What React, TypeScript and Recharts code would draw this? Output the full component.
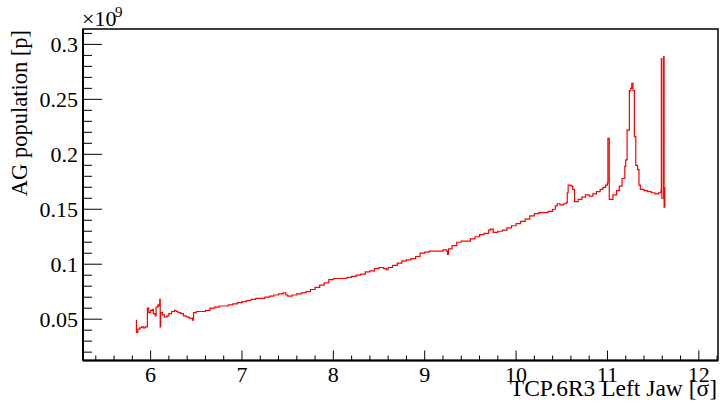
import React from "react";
import {
  LineChart,
  Line,
  XAxis,
  YAxis,
  ReferenceArea,
} from "recharts";

// jaw position in sigma
const sigma = [
  5.84, 5.845, 5.86, 5.88, 5.9, 5.92, 5.94, 5.96, 5.965, 5.98, 6.0, 6.02, 6.03, 6.05,
  6.06, 6.08, 6.09, 6.1, 6.105, 6.11, 6.13, 6.15, 6.18, 6.2, 6.23, 6.26, 6.28, 6.3,
  6.33, 6.36, 6.39, 6.42, 6.45, 6.46, 6.47, 6.5, 6.55, 6.6, 6.65, 6.7, 6.75, 6.8,
  6.85, 6.9, 6.95, 7.0, 7.05, 7.1, 7.15, 7.2, 7.25, 7.3, 7.35, 7.4, 7.45, 7.48, 7.5,
  7.55, 7.6, 7.65, 7.7, 7.75, 7.8, 7.85, 7.9, 7.95, 8.0, 8.05, 8.1, 8.15, 8.2, 8.25,
  8.3, 8.35, 8.4, 8.45, 8.5, 8.55, 8.58, 8.6, 8.65, 8.7, 8.75, 8.8, 8.85, 8.9, 8.95,
  9.0, 9.05, 9.1, 9.15, 9.2, 9.24, 9.25, 9.26, 9.3, 9.35, 9.4, 9.45, 9.5, 9.55, 9.6,
  9.65, 9.7, 9.72, 9.75, 9.8, 9.85, 9.9, 9.95, 10.0, 10.05, 10.1, 10.15, 10.2, 10.25,
  10.3, 10.35, 10.4, 10.43, 10.45, 10.48, 10.52, 10.55, 10.56, 10.57, 10.6, 10.62,
  10.64, 10.68, 10.72, 10.76, 10.8, 10.84, 10.88, 10.92, 10.95, 10.98, 11.0, 11.005,
  11.02, 11.06, 11.1, 11.13, 11.16, 11.19, 11.2, 11.215, 11.24, 11.255, 11.266, 11.28,
  11.295, 11.31, 11.33, 11.345, 11.36, 11.4, 11.44, 11.48, 11.52, 11.56, 11.585, 11.59,
  11.595, 11.615, 11.62, 11.628,
];

// AG population in units of 1e9 protons
const population = [
  0.049, 0.038, 0.041, 0.042, 0.043, 0.042, 0.043, 0.043, 0.06, 0.056, 0.058, 0.059, 0.055, 0.053,
  0.061, 0.063, 0.062, 0.068, 0.043, 0.056, 0.054, 0.052, 0.053, 0.055, 0.057, 0.058, 0.057, 0.056,
  0.055, 0.053, 0.052, 0.051, 0.051, 0.049, 0.056, 0.057, 0.057, 0.058, 0.06, 0.061, 0.062, 0.062,
  0.063, 0.064, 0.065, 0.066, 0.067, 0.068, 0.069, 0.069, 0.07, 0.071, 0.072, 0.073, 0.074, 0.072, 0.071,
  0.072, 0.073, 0.074, 0.075, 0.077, 0.079, 0.081, 0.083, 0.086, 0.087, 0.087, 0.087, 0.088, 0.089, 0.09,
  0.091, 0.093, 0.094, 0.096, 0.097, 0.096, 0.095, 0.097, 0.099, 0.101, 0.103, 0.104, 0.105, 0.107, 0.11,
  0.111, 0.112, 0.112, 0.112, 0.113, 0.112, 0.109, 0.114, 0.117, 0.12, 0.121, 0.121, 0.123, 0.125, 0.127,
  0.128, 0.131, 0.132, 0.129, 0.13, 0.131, 0.133, 0.135, 0.137, 0.139, 0.141, 0.144, 0.146, 0.147,
  0.147, 0.148, 0.15, 0.153, 0.155, 0.154, 0.155, 0.156, 0.165, 0.172, 0.171, 0.168,
  0.157, 0.159, 0.161, 0.163, 0.162, 0.164, 0.166, 0.168, 0.17, 0.172, 0.174, 0.2145,
  0.159, 0.163, 0.167, 0.171, 0.178, 0.189, 0.195, 0.222, 0.258, 0.26, 0.2645, 0.258,
  0.216, 0.19, 0.186, 0.172, 0.168, 0.167, 0.166, 0.165, 0.164, 0.165, 0.167, 0.287,
  0.16, 0.289, 0.152, 0.17,
];

const xTicks = [
  5.4, 5.6, 5.8, 6, 6.2, 6.4, 6.6, 6.8, 7, 7.2, 7.4, 7.6, 7.8, 8, 8.2, 8.4, 8.6, 8.8,
  9, 9.2, 9.4, 9.6, 9.8, 10, 10.2, 10.4, 10.6, 10.8, 11, 11.2, 11.4, 11.6, 11.8, 12, 12.2,
];
const yTicks = [
  0.02, 0.03, 0.04, 0.05, 0.06, 0.07, 0.08, 0.09, 0.1, 0.11, 0.12, 0.13, 0.14, 0.15,
  0.16, 0.17, 0.18, 0.19, 0.2, 0.21, 0.22, 0.23, 0.24, 0.25, 0.26, 0.27, 0.28, 0.29, 0.3, 0.31,
];

const X_MIN = 5.26;
const X_MAX = 12.21;
const Y_MIN = 0.0124;
const Y_MAX = 0.314;

const data = sigma.map((s, i) => ({ sigma: s, pop: population[i] }));

const FONT = "'Liberation Serif', 'DejaVu Serif', serif";

const XTick = (props: any) => {
  const { x, y, payload } = props;
  const v = payload.value;
  const major = Math.abs(v - Math.round(v)) < 1e-6;
  return (
    <g>
      <line x1={x} x2={x} y1={y} y2={y - (major ? 10 : 5)} stroke="#000" strokeWidth={1} />
      {major && (
        <text x={x} y={y + 21} textAnchor="middle" fontFamily={FONT} fontSize={22} fill="#000">
          {Math.round(v)}
        </text>
      )}
    </g>
  );
};

const YTick = (props: any) => {
  const { x, y, payload } = props;
  const v = payload.value;
  const major = Math.abs(v * 20 - Math.round(v * 20)) < 1e-6;
  return (
    <g>
      <line x1={x} x2={x + (major ? 19 : 9)} y1={y} y2={y} stroke="#000" strokeWidth={1} />
      {major && (
        <text x={x - 5} y={y} dy="0.35em" textAnchor="end" fontFamily={FONT} fontSize={22} fill="#000">
          {String(+v.toFixed(2))}
        </text>
      )}
    </g>
  );
};

export default function App() {
  return (
    <div style={{ position: "absolute", left: 0, top: 0, width: 721, height: 405, background: "#fff" }}>
      <LineChart width={721} height={405} data={data} margin={{ top: 29, right: 3, left: 0, bottom: 0 }}>
        <XAxis
          dataKey="sigma"
          type="number"
          domain={[X_MIN, X_MAX]}
          ticks={xTicks}
          interval={0}
          allowDataOverflow
          height={44.5}
          tickSize={0}
          tickMargin={0}
          tick={<XTick />}
          axisLine={{ stroke: "#000", strokeWidth: 2 }}
        />
        <YAxis
          type="number"
          domain={[Y_MIN, Y_MAX]}
          ticks={yTicks}
          interval={0}
          allowDataOverflow
          width={83}
          tickSize={0}
          tickMargin={0}
          tick={<YTick />}
          axisLine={{ stroke: "#000", strokeWidth: 2 }}
        />
        <ReferenceArea
          x1={X_MIN}
          x2={X_MAX}
          y1={Y_MIN}
          y2={Y_MAX}
          fill="none"
          stroke="#000"
          strokeWidth={1.5}
        />
        <Line
          type="stepAfter"
          dataKey="pop"
          stroke="#ff0000"
          strokeWidth={1.2}
          dot={false}
          isAnimationActive={false}
        />
        <text x={82} y={26} fontFamily={FONT} fontSize={22} fill="#000">
          ×10
        </text>
        <text x={115} y={17} fontFamily={FONT} fontSize={15} fill="#000">
          9
        </text>
        <text
          x={27}
          y={30}
          transform="rotate(-90, 27, 30)"
          textAnchor="end"
          fontFamily={FONT}
          fontSize={22.5}
          fill="#000"
        >
          AG population [p]
        </text>
        <text x={717} y={396} textAnchor="end" fontFamily={FONT} fontSize={23.5} fill="#000">
          TCP.6R3 Left Jaw [σ]
        </text>
      </LineChart>
    </div>
  );
}
